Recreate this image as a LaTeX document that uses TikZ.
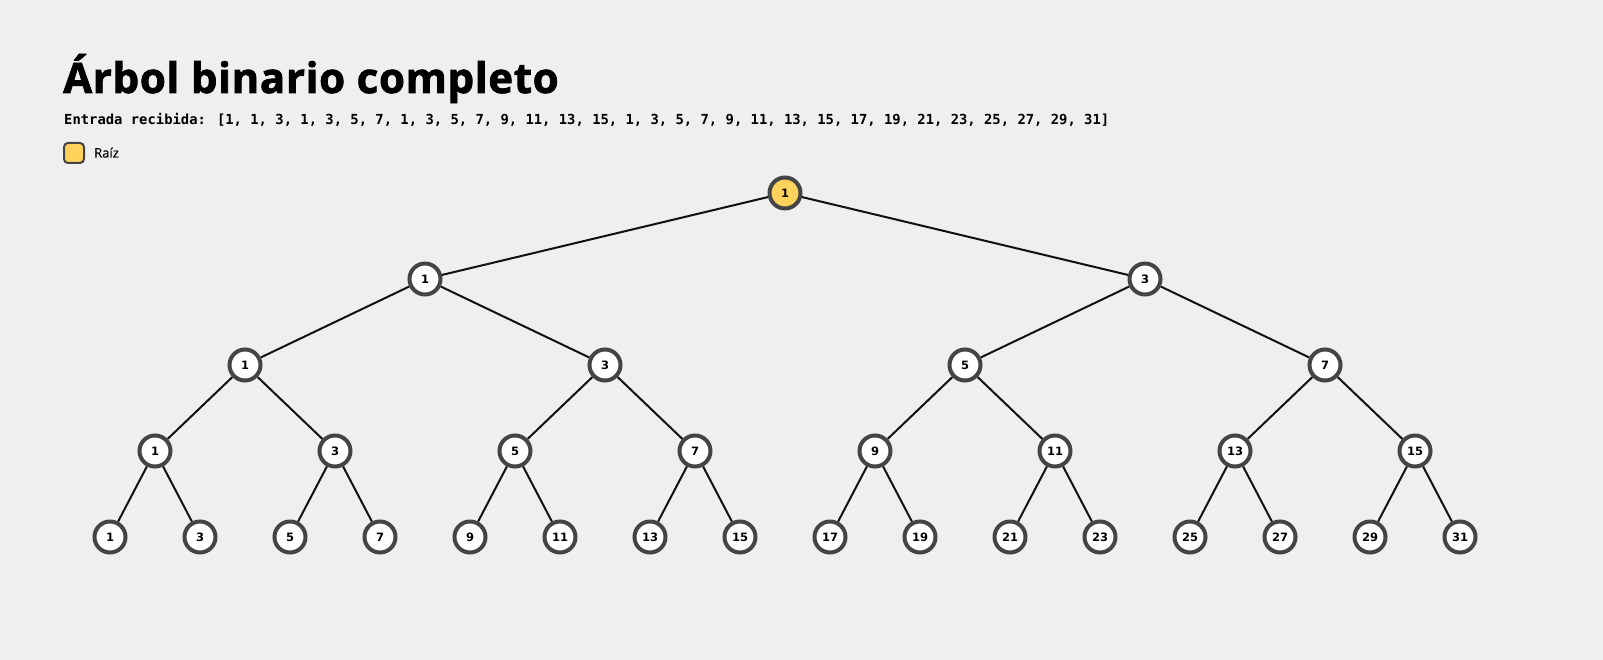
\documentclass[tikz,border=0pt]{standalone}
\usepackage{fontspec}
\setmainfont{Open Sans}
\newfontfamily\titlefont{Open Sans Bold}[FakeBold=1.8,LetterSpace=1.6]
\newfontfamily\legfont{Open Sans}[FakeBold=0.6]
\newfontfamily\nodefont{DejaVu Sans}
\newfontfamily\monofont{DejaVu Sans Mono}
\definecolor{bgc}{HTML}{EFEFEF}
\definecolor{ring}{HTML}{444444}
\definecolor{rootc}{HTML}{FFD35B}
\definecolor{edgec}{HTML}{111111}
\pgfdeclarelayer{bg}
\pgfdeclarelayer{edges}
\pgfsetlayers{bg,edges,main}
\tikzset{
  treenode/.style={circle, draw=ring, line width=4pt, minimum size=31pt, inner sep=0pt,
    font=\nodefont\bfseries\fontsize{11.5}{12}\selectfont},
  treeedge/.style={draw=edgec, line width=2pt},
  legendbox/.style={draw=ring, line width=2pt, fill=rootc, rounded corners=4pt, minimum size=20pt, inner sep=0pt},
  txt/.style={anchor=base west, inner sep=0pt}
}
\begin{document}
\begin{tikzpicture}[x=1pt,y=-1pt]
\useasboundingbox (0,0) rectangle (1603,660);
\begin{pgfonlayer}{bg}
\fill[bgc] (0,0) rectangle (1603,660);
\end{pgfonlayer}
\node[txt] (title) at (63,93) {\titlefont\fontsize{42}{42}\selectfont Árbol binario completo};
\node[txt] (input) at (64,124.5) {\monofont\bfseries\fontsize{13.85}{14}\selectfont Entrada recibida: [1, 1, 3, 1, 3, 5, 7, 1, 3, 5, 7, 9, 11, 13, 15, 1, 3, 5, 7, 9, 11, 13, 15, 17, 19, 21, 23, 25, 27, 29, 31]};
\node[legendbox] (legbox) at (74,153) {};
\node[txt] (legtext) at (94,157.5) {\legfont\fontsize{13}{13}\selectfont Raíz};
\foreach \d in {0,...,4}{
  \pgfmathtruncatemacro\cnt{2^\d-1}
  \pgfmathtruncatemacro\spn{2^(4-\d)}
  \foreach \j in {0,...,\cnt}{
    \pgfmathsetmacro\xx{110+90*(\spn*\j+(\spn-1)/2)}
    \pgfmathsetmacro\yy{193+86*\d}
    \pgfmathtruncatemacro\val{2*\j+1}
    \ifnum\d=0 \def\fc{rootc}\else\def\fc{white}\fi
    \node[treenode, fill=\fc] (n-\d-\j) at (\xx,\yy) {\val};
  }
}
\begin{pgfonlayer}{edges}
\foreach \d in {1,...,4}{
  \pgfmathtruncatemacro\pd{\d-1}
  \pgfmathtruncatemacro\cnt{2^\d-1}
  \foreach \j in {0,...,\cnt}{
    \pgfmathtruncatemacro\pj{floor(\j/2)}
    \draw[treeedge] (n-\pd-\pj) -- (n-\d-\j);
  }
}
\end{pgfonlayer}
\end{tikzpicture}
\end{document}
